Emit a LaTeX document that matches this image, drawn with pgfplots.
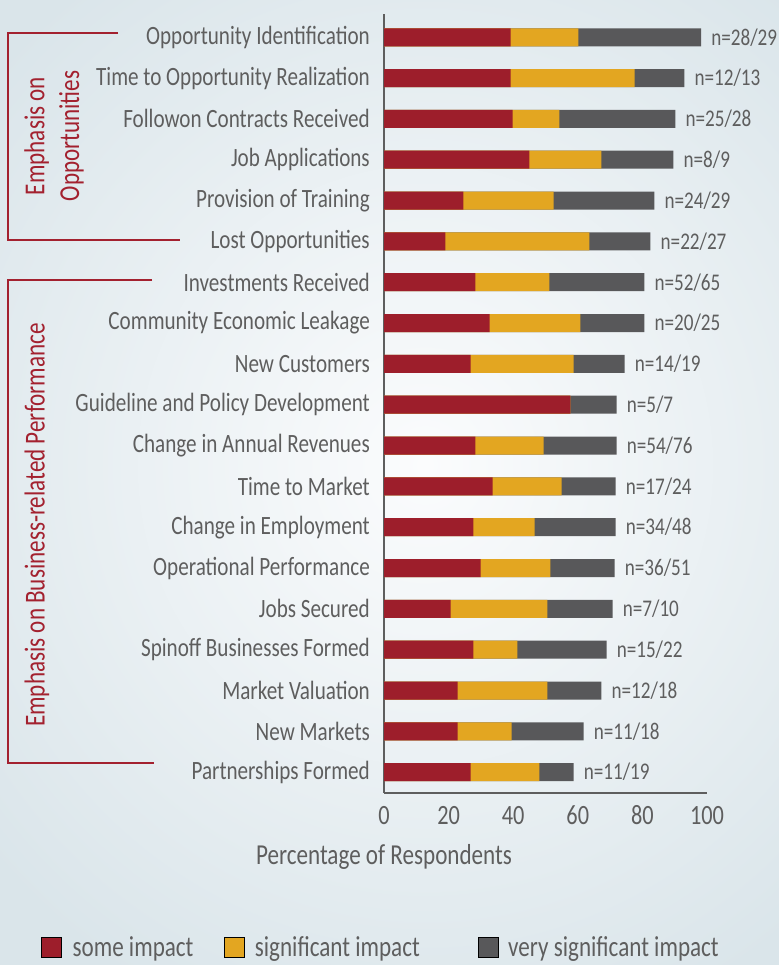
\documentclass[border=0pt]{standalone}
\usepackage{pgfplots}
\pgfplotsset{compat=1.18}
\usepackage{pgfplotstable}
\usepackage{fontspec}
\setmainfont{Carlito}[FakeStretch=0.8]
\definecolor{cRed}{HTML}{9D1E2B}
\definecolor{cYel}{HTML}{E3A621}
\definecolor{cGry}{HTML}{58585A}
\definecolor{txt}{HTML}{5E5E5E}
\definecolor{brk}{HTML}{A3212F}
\definecolor{bgout}{HTML}{DAE5EA}
\definecolor{bgin}{HTML}{FBFCFD}
\pgfplotsset{sqlegend/.style={legend image code/.code={\fill[##1] (0bp,-10bp) rectangle (20bp,10bp);}}}

% cumulative segment ends: some (red), +significant (yellow), +very significant (grey)
\pgfplotstableread[col sep=comma]{
pos,ered,eyel,egry,n
0,26.8,48.1,58.7,n=11/19
1,22.8,39.5,61.8,n=11/18
2,22.8,50.6,67.3,n=12/18
3,27.7,41.3,68.9,n=15/22
4,20.6,50.6,70.8,n=7/10
5,29.9,51.5,71.4,n=36/51
6,27.7,46.6,71.7,n=34/48
7,33.6,55.0,71.7,n=17/24
8,28.3,49.4,72.0,n=54/76
9,57.7,57.7,72.0,n=5/7
10,26.8,58.7,74.5,n=14/19
11,32.7,60.8,80.6,n=20/25
12,28.3,51.2,80.6,n=52/65
13,19.0,63.6,82.5,n=22/27
14,24.6,52.5,83.7,n=24/29
15,45.0,67.3,89.6,n=8/9
16,39.8,54.3,90.2,n=25/28
17,39.2,77.6,93.0,n=12/13
18,39.2,60.2,98.2,n=28/29
}\data

\begin{document}
\begin{tikzpicture}[x=1bp,y=1bp]
\useasboundingbox (0,0) rectangle (779,965);
\fill[bgout] (0,0) rectangle (779,965);
\shade[inner color=bgin, outer color=bgout] (-150,-100) rectangle (1000,1100);
\begin{axis}[
  at={(384bp,172bp)}, anchor=south west,
  scale only axis, width=323bp, height=779bp,
  xmin=0, xmax=100, ymin=-0.51, ymax=18.57,
  xbar, bar width=18bp, bar shift=0pt,
  axis x line=bottom, axis y line=left,
  axis line style={-, draw=txt, line width=2bp},
  major tick length=0pt,
  xtick={0,20,...,100},
  ytick={0,...,18},
  yticklabels={Partnerships Formed, New Markets, Market Valuation, Spinoff Businesses Formed, Jobs Secured, Operational Performance, Change in Employment, Time to Market, Change in Annual Revenues, Guideline and Policy Development, New Customers, Community Economic Leakage, Investments Received, Lost Opportunities, Provision of Training, Job Applications, Followon Contracts Received, Time to Opportunity Realization, Opportunity Identification},
  yticklabel style={anchor=east, inner sep=0pt, xshift=-14bp, text=txt, font=\fontsize{26.5}{30}\selectfont},
  xticklabel style={anchor=base, inner sep=0pt, yshift=-32bp, text=txt, font=\fontsize{28}{32}\selectfont},
  /pgf/number format/assume math mode=true,
  xlabel={Percentage of Respondents},
  xlabel style={at={(axis description cs:0,-0.082)}, anchor=center, text=txt, font=\fontsize{29}{32}\selectfont},
  clip=false,
  legend columns=3,
  legend style={at={(axis description cs:-1.062,-0.1977)}, anchor=west, draw=none, fill=none, inner sep=0pt,
    nodes={inner sep=0pt, anchor=west, text=txt, font=\fontsize{29}{32}\selectfont},
    /tikz/column 1/.style={column sep=11bp},
    /tikz/column 2/.style={column sep=31bp},
    /tikz/column 3/.style={column sep=10bp},
    /tikz/column 4/.style={column sep=58bp},
    /tikz/column 5/.style={column sep=10bp}},
]
\addlegendimage{fill=cRed, sqlegend}
\addlegendimage{fill=cYel, sqlegend}
\addlegendimage{fill=cGry, sqlegend}
\addplot[fill=cGry, draw=none, forget plot,
  nodes near coords, point meta=explicit symbolic,
  every node near coord/.append style={anchor=west, inner sep=0pt, xshift=10bp, text=txt, font=\fontsize{24}{28}\selectfont}]
  table[x=egry, y=pos, meta=n] {\data};
\addplot[fill=cYel, draw=none, forget plot] table[x=eyel, y=pos] {\data};
\addplot[fill=cRed, draw=none, forget plot] table[x=ered, y=pos] {\data};
\legend{some impact, significant impact, very significant impact}
\end{axis}
\draw[brk, line width=2bp] (118,932) -- (8,932) -- (8,725) -- (180,725);
\draw[brk, line width=2bp] (152,685) -- (8,685) -- (8,202) -- (154,202);
\node[rotate=90, text=brk, align=center, font=\fontsize{29}{35}\selectfont] at (54,829) {Emphasis on\\Opportunities};
\node[rotate=90, text=brk, font=\fontsize{29}{35}\selectfont] at (37,440) {Emphasis on Business-related Performance};
\end{tikzpicture}
\end{document}
